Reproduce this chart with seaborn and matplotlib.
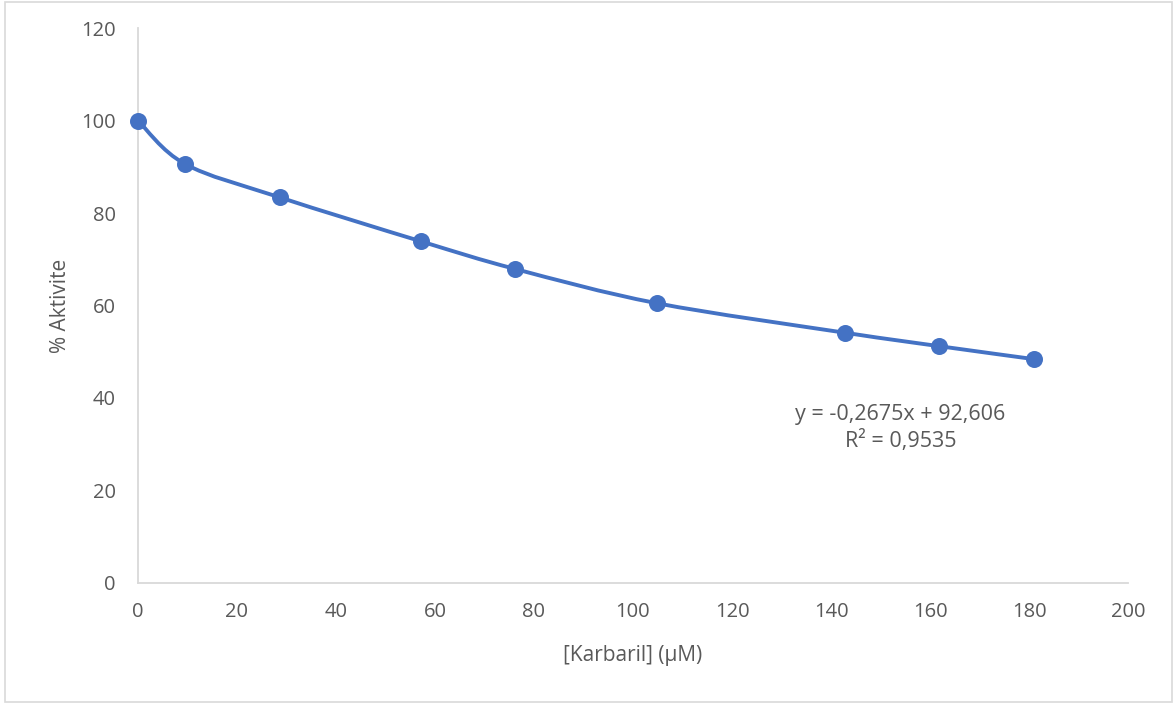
import numpy as np
import pandas as pd
import matplotlib
matplotlib.use("Agg")
import matplotlib.pyplot as plt
from matplotlib.path import Path
from matplotlib.patches import PathPatch, Rectangle
import seaborn as sns

# data
karbaril = [0, 9.5, 28.6, 57.1, 76.2, 104.8, 142.9, 161.9, 181.0]
aktivite = [100.0, 90.6, 83.4, 73.9, 67.9, 60.5, 54.1, 51.2, 48.4]
x_ticks = [0, 20, 40, 60, 80, 100, 120, 140, 160, 180, 200]
y_ticks = [0, 20, 40, 60, 80, 100, 120]
trend_text = "y = -0,2675x + 92,606\nR² = 0,9535"

df = pd.DataFrame({"x": karbaril, "y": aktivite})

sns.set_theme(style="white")
plt.rcParams["font.family"] = ["Open Sans", "DejaVu Sans"]

blue = "#4472C4"
grey_txt = "#595959"
grey_line = "#D9D9D9"

fig = plt.figure(figsize=(11.76, 7.04), dpi=100)
ax = fig.add_axes([0.1173, 0.1719, 0.9592 - 0.1173, 0.9602 - 0.1719])

# smoothed line like excel (catmull-rom -> bezier)
pts = df[["x", "y"]].to_numpy()
verts = [tuple(pts[0])]
codes = [Path.MOVETO]
n = len(pts)
for i in range(n - 1):
    p0 = pts[i - 1] if i > 0 else pts[i]
    p1 = pts[i]
    p2 = pts[i + 1]
    p3 = pts[i + 2] if i + 2 < n else pts[i + 1]
    c1 = p1 + (p2 - p0) / 6.0
    c2 = p2 - (p3 - p1) / 6.0
    verts += [tuple(c1), tuple(c2), tuple(p2)]
    codes += [Path.CURVE4] * 3
ax.add_patch(PathPatch(Path(verts, codes), facecolor="none", edgecolor=blue,
                       lw=2.8, capstyle="round", joinstyle="round", zorder=2))

sns.scatterplot(data=df, x="x", y="y", ax=ax, s=150, color=blue,
                edgecolor=blue, linewidth=0, zorder=3, clip_on=False)

ax.set_xlim(0, 200)
ax.set_ylim(0, 120)
ax.set_xticks(x_ticks)
ax.set_yticks(y_ticks)
ax.tick_params(axis="both", length=0, labelsize=14.5, colors=grey_txt)
ax.tick_params(axis="x", pad=14)
ax.tick_params(axis="y", pad=16)

for s in ["top", "right"]:
    ax.spines[s].set_visible(False)
for s in ["left", "bottom"]:
    ax.spines[s].set_color(grey_line)
    ax.spines[s].set_linewidth(1.3)

ax.set_xlabel("[Karbaril] (µM)", fontsize=15, color=grey_txt, labelpad=16)
ax.set_ylabel("% Aktivite", fontsize=15, color=grey_txt, labelpad=7)

ax.text(154, 33.5, trend_text, ha="center", va="center", fontsize=15.5,
        color=grey_txt, linespacing=1.25)

# outer chart border
fig.patches.append(Rectangle((5 / 1176, 2 / 704), 1167 / 1176, 700 / 704,
                             transform=fig.transFigure, fill=False,
                             edgecolor=grey_line, lw=1.2))

fig.savefig("out.png", dpi=100, facecolor="white")
